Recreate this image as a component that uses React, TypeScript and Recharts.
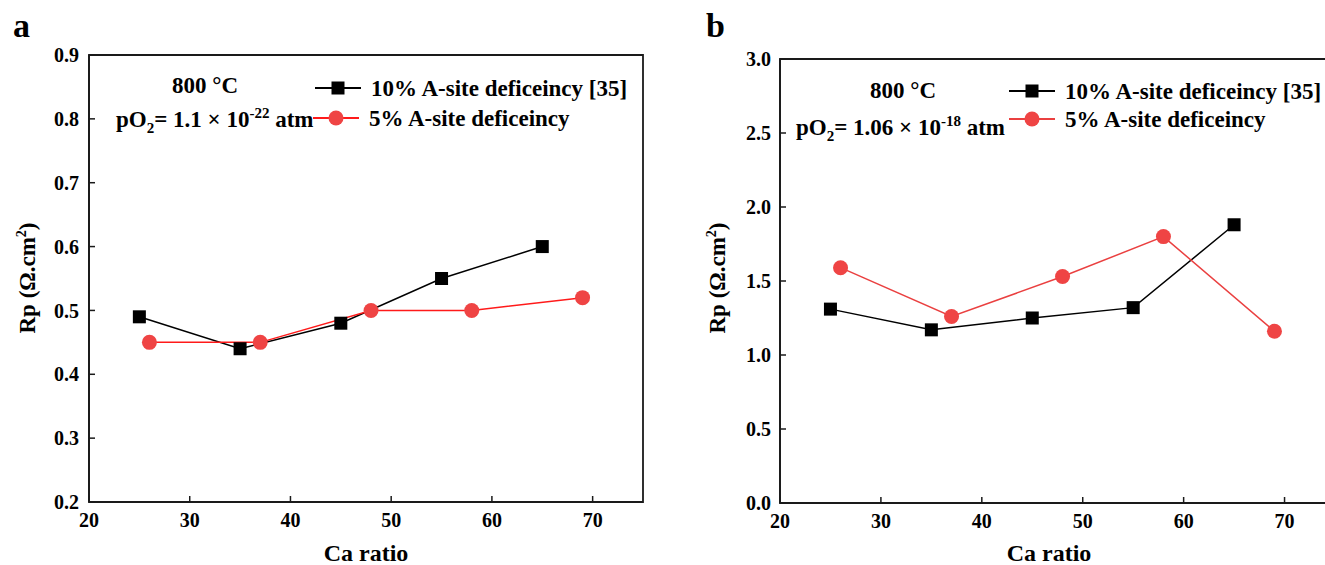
import { LineChart, Line, XAxis, YAxis, ReferenceArea } from 'recharts'

// Ca ratio (x) and polarisation resistance Rp (y) for each series
const caTen = [25, 35, 45, 55, 65]
const caFive = [26, 37, 48, 58, 69]

const rpTenA = [0.49, 0.44, 0.48, 0.55, 0.6]
const rpFiveA = [0.45, 0.45, 0.5, 0.5, 0.52]

const rpTenB = [1.31, 1.17, 1.25, 1.32, 1.88]
const rpFiveB = [1.59, 1.26, 1.53, 1.8, 1.16]

const xTicks = [20, 30, 40, 50, 60, 70]
const yTicksA = [0.2, 0.3, 0.4, 0.5, 0.6, 0.7, 0.8, 0.9]
const yTicksB = [0, 0.5, 1, 1.5, 2, 2.5, 3]

const FONT = "'Liberation Serif', 'Times New Roman', serif"
const AXIS = '#1a1a1a'
const RED_MARK = '#ef4444'

const toRows = (xs: number[], ys: number[]) => xs.map((ca, i) => ({ ca, rp: ys[i] }))

const SquareDot = (props: any) => {
  const { cx, cy } = props
  if (cx == null || cy == null) return null
  return <rect x={cx - 6.5} y={cy - 6.5} width={13} height={13} fill="#000" />
}

const RoundDot = (props: any) => {
  const { cx, cy } = props
  if (cx == null || cy == null) return null
  return <circle cx={cx} cy={cy} r={7.5} fill={RED_MARK} />
}

const tickStyle = { fill: '#000', fontSize: 20, fontWeight: 700, fontFamily: FONT }

interface PanelProps {
  left: number
  width: number
  margin: { top: number; right: number; bottom: number; left: number }
  yDomain: [number, number]
  yTicks: number[]
  ten: number[]
  five: number[]
  redLine: string
  yTickMargin: number
}

function Panel({ left, width, margin, yDomain, yTicks, ten, five, redLine, yTickMargin }: PanelProps) {
  return (
    <div style={{ position: 'absolute', left, top: 0 }}>
      <LineChart width={width} height={565} margin={margin}>
        <XAxis
          type="number"
          dataKey="ca"
          domain={[20, 75]}
          ticks={xTicks}
          allowDataOverflow
          height={40}
          tickSize={-6}
          tickMargin={17}
          stroke={AXIS}
          strokeWidth={1.8}
          tick={tickStyle}
          tickLine={{ stroke: AXIS, strokeWidth: 1.5 }}
        />
        <YAxis
          type="number"
          dataKey="rp"
          domain={yDomain}
          ticks={yTicks}
          allowDataOverflow
          width={40}
          tickSize={-6}
          tickMargin={yTickMargin}
          stroke={AXIS}
          strokeWidth={1.8}
          tick={tickStyle}
          tickLine={{ stroke: AXIS, strokeWidth: 1.5 }}
          tickFormatter={(v: number) => v.toFixed(1)}
        />
        {/* closes the frame on the top and right */}
        <ReferenceArea
          x1={20}
          x2={75}
          y1={yDomain[0]}
          y2={yDomain[1]}
          fill="none"
          stroke={AXIS}
          strokeWidth={1.8}
          ifOverflow="visible"
        />
        <Line
          data={toRows(caTen, ten)}
          dataKey="rp"
          stroke="#000"
          strokeWidth={1.5}
          dot={<SquareDot />}
          activeDot={false}
          isAnimationActive={false}
        />
        <Line
          data={toRows(caFive, five)}
          dataKey="rp"
          stroke={redLine}
          strokeWidth={1.5}
          dot={<RoundDot />}
          activeDot={false}
          isAnimationActive={false}
        />
      </LineChart>
    </div>
  )
}

const textBase: React.CSSProperties = {
  position: 'absolute',
  fontFamily: FONT,
  fontWeight: 700,
  color: '#000',
  whiteSpace: 'nowrap',
  lineHeight: 1,
}

function LegendRow({ x, y, kind, color, label }: { x: number; y: number; kind: 'square' | 'circle'; color: string; label: string }) {
  return (
    <div style={{ ...textBase, left: x, top: y - 12, height: 24, display: 'flex', alignItems: 'center', fontSize: 23 }}>
      <svg width={48} height={24} style={{ marginRight: 8 }}>
        <line x1={0} y1={12} x2={46} y2={12} stroke={color} strokeWidth={1.8} />
        {kind === 'square' ? (
          <rect x={16.5} y={5.5} width={13} height={13} fill="#000" />
        ) : (
          <circle cx={23} cy={12} r={7.5} fill={RED_MARK} />
        )}
      </svg>
      <span>{label}</span>
    </div>
  )
}

function YTitle({ cx, cy }: { cx: number; cy: number }) {
  return (
    <div
      style={{
        ...textBase,
        left: cx,
        top: cy,
        fontSize: 23,
        transform: 'translate(-50%, -50%) rotate(-90deg)',
      }}
    >
      Rp (Ω.cm<sup style={{ fontSize: 14, verticalAlign: 'super', lineHeight: 0 }}>2</sup>)
    </div>
  )
}

function XTitle({ cx, cy }: { cx: number; cy: number }) {
  return (
    <div style={{ ...textBase, left: cx, top: cy, fontSize: 24, transform: 'translate(-50%, -50%)' }}>
      Ca ratio
    </div>
  )
}

function Pressure({ x, y, mant, exp }: { x: number; y: number; mant: string; exp: string }) {
  return (
    <div style={{ ...textBase, left: x, top: y - 12, fontSize: 23 }}>
      pO<sub style={{ fontSize: 15, lineHeight: 0, verticalAlign: 'sub' }}>2</sub>= {mant} × 10
      <sup style={{ fontSize: 15, lineHeight: 0, verticalAlign: 'super' }}>{exp}</sup> atm
    </div>
  )
}

export default function App() {
  return (
    <div
      style={{
        position: 'absolute',
        left: 0,
        top: 0,
        width: 1325,
        height: 565,
        overflow: 'hidden',
        background: '#fff',
      }}
    >
      <Panel
        left={0}
        width={700}
        margin={{ top: 55, right: 57, bottom: 23, left: 49 }}
        yDomain={[0.2, 0.9]}
        yTicks={yTicksA}
        ten={rpTenA}
        five={rpFiveA}
        redLine="#ff1a1a"
        yTickMargin={16}
      />
      {/* panel b runs past the right edge, so its frame is cut there */}
      <Panel
        left={700}
        width={625}
        margin={{ top: 59, right: -10, bottom: 22, left: 40 }}
        yDomain={[0, 3]}
        yTicks={yTicksB}
        ten={rpTenB}
        five={rpFiveB}
        redLine="#ea4040"
        yTickMargin={15}
      />

      <div style={{ ...textBase, left: 13, top: 9, fontSize: 34 }}>a</div>
      <div style={{ ...textBase, left: 706, top: 9, fontSize: 34 }}>b</div>

      <YTitle cx={27} cy={278} />
      <YTitle cx={717} cy={278} />

      <XTitle cx={366} cy={553} />
      <XTitle cx={1049} cy={553} />

      <div style={{ ...textBase, left: 205, top: 86 - 12, fontSize: 23, transform: 'translateX(-50%)' }}>800 °C</div>
      <Pressure x={116} y={120} mant="1.1" exp="-22" />

      <div style={{ ...textBase, left: 903, top: 91 - 12, fontSize: 23, transform: 'translateX(-50%)' }}>800 °C</div>
      <Pressure x={796} y={128} mant="1.06" exp="-18" />

      <LegendRow x={315} y={88} kind="square" color="#000" label="10% A-site deficeincy [35]" />
      <LegendRow x={313} y={118} kind="circle" color="#ff1a1a" label="5% A-site deficeincy" />

      <LegendRow x={1009} y={91} kind="square" color="#000" label="10% A-site deficeincy [35]" />
      <LegendRow x={1009} y={119} kind="circle" color="#ea4040" label="5% A-site deficeincy" />
    </div>
  )
}
